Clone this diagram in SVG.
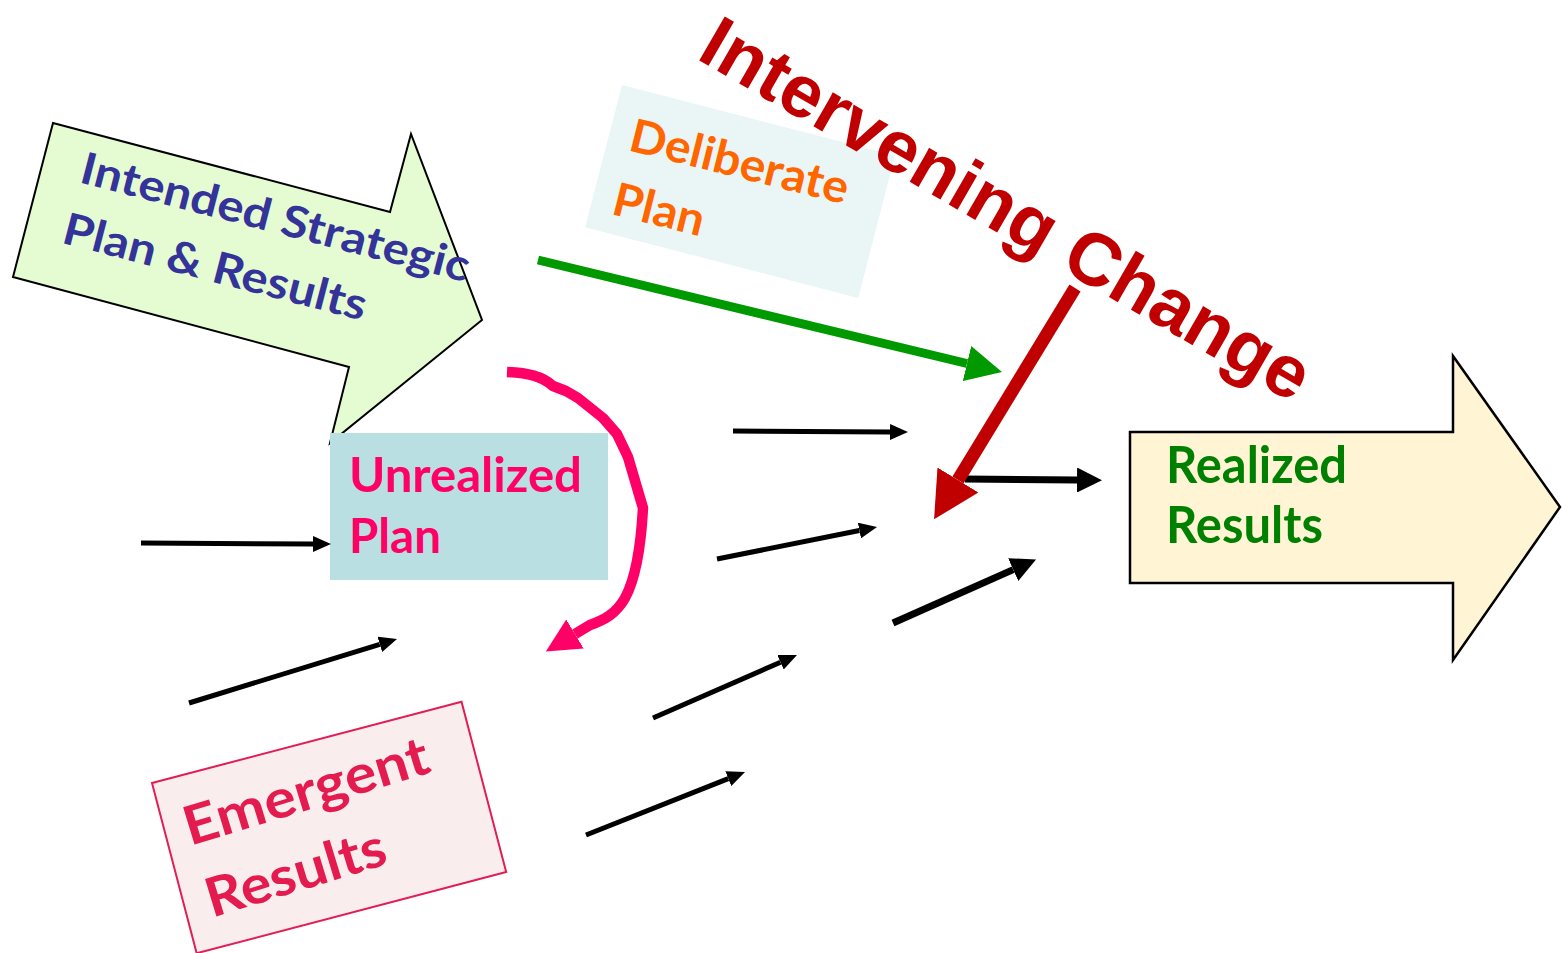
<svg xmlns="http://www.w3.org/2000/svg" width="1562" height="953" viewBox="0 0 1562 953">
<style>
.t{font-family:Lato,"Open Sans","Liberation Sans",sans-serif;font-weight:bold}
.ic{font-family:"Liberation Sans",Arial,sans-serif;font-weight:bold;fill:#C00000}
.blk{stroke:#000;fill:none}
</style>
<defs>
<marker id="hs" markerUnits="userSpaceOnUse" markerWidth="18" markerHeight="16" viewBox="0 0 18 16" refX="0" refY="8" orient="auto"><path d="M0,0 L18,8 L0,16 z" fill="#000"/></marker>
<marker id="hb" markerUnits="userSpaceOnUse" markerWidth="25" markerHeight="25" viewBox="0 0 25 25" refX="0" refY="12.5" orient="auto"><path d="M0,0 L25,12.5 L0,25 z" fill="#000"/></marker>
<marker id="hg" markerUnits="userSpaceOnUse" markerWidth="36" markerHeight="36" viewBox="0 0 36 36" refX="0" refY="18" orient="auto"><path d="M0,0 L36,18 L0,36 z" fill="#009900"/></marker>
<marker id="hr" markerUnits="userSpaceOnUse" markerWidth="46" markerHeight="48" viewBox="0 0 46 48" refX="0" refY="24" orient="auto"><path d="M0,0 L46,24 L0,48 z" fill="#C00000"/></marker>
<marker id="hp" markerUnits="userSpaceOnUse" markerWidth="34" markerHeight="34" viewBox="0 0 34 34" refX="0" refY="17" orient="auto"><path d="M0,0 L34,17 L0,34 z" fill="#FF0066"/></marker>
</defs>
<rect width="1562" height="953" fill="#fff"/>

<g id="deliberate">
<rect x="0" y="0" width="282" height="147" fill="#EAF5F6" transform="translate(622,85) rotate(14.5)"/>
<g transform="translate(627,150) rotate(14)">
<text class="t" x="0" y="0" font-size="46" fill="#FF6600" textLength="224" lengthAdjust="spacingAndGlyphs">Deliberate</text>
<text class="t" x="-1" y="66" font-size="46" fill="#FF6600" textLength="93" lengthAdjust="spacingAndGlyphs">Plan</text>
</g>
</g>

<g id="intended">
<polygon points="53,123 390,212 411,134 482,320 330,443 349,367 13,277" fill="#E5FCD2" stroke="#000" stroke-width="2"/>
<g transform="translate(78,182) rotate(14.5)">
<text class="t" x="0" y="0" font-size="44" fill="#333399" textLength="400" lengthAdjust="spacingAndGlyphs">Intended Strategic</text>
<text class="t" x="-2" y="63" font-size="44" fill="#333399" textLength="312" lengthAdjust="spacingAndGlyphs">Plan &amp; Results</text>
</g>
</g>

<g id="unrealized">
<rect x="330" y="433" width="278" height="147" fill="#B9DFE2"/>
<text class="t" x="349" y="492" font-size="47" fill="#FF0066" textLength="233" lengthAdjust="spacingAndGlyphs">Unrealized</text>
<text class="t" x="349" y="553" font-size="47" fill="#FF0066" textLength="92" lengthAdjust="spacingAndGlyphs">Plan</text>
</g>

<g id="emergent">
<rect x="0" y="0" width="320" height="176" fill="#F9EDED" stroke="#E21D54" stroke-width="2" transform="translate(152,783) rotate(-14.7)"/>
<g transform="translate(190,846) rotate(-17)">
<text class="t" x="0" y="0" font-size="54" fill="#E31B4F" textLength="254" lengthAdjust="spacingAndGlyphs">Emergent</text>
<text class="t" x="0" y="75" font-size="54" fill="#E31B4F" textLength="186" lengthAdjust="spacingAndGlyphs">Results</text>
</g>
</g>

<g id="realized">
<polygon points="1130,432 1453,432 1453,356 1560,507 1453,660 1453,583 1130,583" fill="#FFF5D4" stroke="#000" stroke-width="2.5"/>
<text class="t" x="1166" y="483" font-size="52" fill="#008000" textLength="181" lengthAdjust="spacingAndGlyphs">Realized</text>
<text class="t" x="1166" y="543" font-size="52" fill="#008000" textLength="157" lengthAdjust="spacingAndGlyphs">Results</text>
</g>

<g id="intervening-change">
<text class="ic" x="0" y="0" font-size="74" transform="translate(695,58) rotate(30)">Intervening Change</text>
</g>

<g id="connectors">
<line class="blk" x1="141" y1="543" x2="313" y2="544" stroke-width="5" marker-end="url(#hs)"/>
<line class="blk" x1="189" y1="703" x2="379.8" y2="644.3" stroke-width="5" marker-end="url(#hs)"/>
<line class="blk" x1="733" y1="431" x2="890" y2="432" stroke-width="5" marker-end="url(#hs)"/>
<line class="blk" x1="717" y1="559" x2="859.4" y2="530.5" stroke-width="5" marker-end="url(#hs)"/>
<line class="blk" x1="653" y1="718" x2="780.5" y2="662.2" stroke-width="5" marker-end="url(#hs)"/>
<line class="blk" x1="586" y1="835" x2="728.3" y2="778.6" stroke-width="5" marker-end="url(#hs)"/>
<line class="blk" x1="965" y1="479" x2="1077" y2="480" stroke-width="7" marker-end="url(#hb)"/>
<line class="blk" x1="893" y1="623" x2="1013.2" y2="569.6" stroke-width="7" marker-end="url(#hb)"/>
<line x1="538" y1="260" x2="967" y2="363.5" stroke="#009900" stroke-width="9" marker-end="url(#hg)"/>
<line x1="1075" y1="288" x2="958" y2="480" stroke="#C00000" stroke-width="13" marker-end="url(#hr)"/>
<path d="M507,372 C528,373 542,376 553,386 L566,391 L578,398 L603,418 L617,434 L628,457 L643,508 C641,545 636,578 625,598 C616,614 604,620 590,625 L575,634" fill="none" stroke="#FF0066" stroke-width="10.5" stroke-linejoin="round" marker-end="url(#hp)"/>
</g>
</svg>
